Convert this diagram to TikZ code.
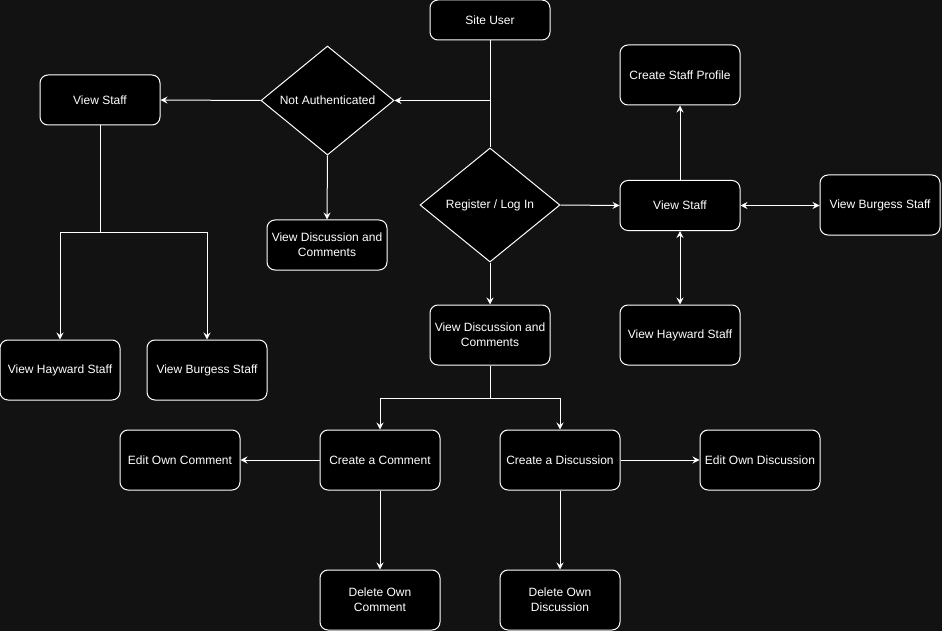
\documentclass[tikz,border=0pt]{standalone}
\usepackage{fontspec}
\setmainfont{Liberation Sans}
\usetikzlibrary{shapes.geometric,arrows.meta}
\definecolor{bgcol}{RGB}{18,18,18}
\tikzset{
  box/.style={draw=white, fill=black, text=white, rounded corners=8pt,
    line width=1pt, minimum width=120pt, minimum height=60pt, inner sep=0pt,
    align=center, font=\fontsize{12}{15}\selectfont},
  shortbox/.style={box, minimum height=50pt},
  decision/.style={diamond, draw=white, fill=black, text=white, line width=1pt,
    inner sep=0pt, align=center, font=\fontsize{12}{15}\selectfont},
  link/.style={draw=white, line width=1pt},
  arr/.style={link, -{Stealth[length=7pt,width=7pt,inset=2.5pt]}},
  twoway/.style={link, {Stealth[length=7pt,width=7pt,inset=2.5pt]}-{Stealth[length=7pt,width=7pt,inset=2.5pt]}},
}
\begin{document}
\begin{tikzpicture}[x=1pt,y=-1pt]
\fill[bgcol] (0,0) rectangle (942,631);
\useasboundingbox (0,0) rectangle (942,631);

% top of the flow
\node[box, minimum height=40pt] (su) at (490,20) {Site User};
\node[decision, minimum width=133pt, minimum height=109pt] (na) at (327.5,100.5) {Not Authenticated};
\node[decision, minimum width=140pt, minimum height=114pt] (rl) at (490,205) {Register / Log In};

% visitor branch
\node[shortbox] (vsl) at (100,100) {View Staff};
\node[shortbox] (vdl) at (327,245) {View Discussion and\\Comments};
\node[box] (hl) at (60,370) {View Hayward Staff};
\node[box] (bgl) at (207,370) {View Burgess Staff};

% signed-in staff branch
\node[shortbox] (vsr) at (680,205.5) {View Staff};
\node[box] (csp) at (680,75) {Create Staff Profile};
\node[box] (bgr) at (880,205) {View Burgess Staff};
\node[box] (hr) at (680,335) {View Hayward Staff};

% discussion branch
\node[box] (vdm) at (490,335) {View Discussion and\\Comments};
\node[box] (cc) at (380,460) {Create a Comment};
\node[box] (cd) at (560,460) {Create a Discussion};
\node[box] (ec) at (180,460) {Edit Own Comment};
\node[box] (ed) at (760,460) {Edit Own Discussion};
\node[box] (dc) at (380,600) {Delete Own\\Comment};
\node[box] (dd) at (560,600) {Delete Own\\Discussion};

% branch points
\coordinate (splitl) at (100,232.5);
\coordinate (splitm) at (490,398);

% connectors
\draw[link] (su.south) -- (rl.north);
\draw[arr] (su.south) |- (na.east);
\draw[arr] (na.west) -- (vsl.east);
\draw[arr] (na.south) -- (vdl.north);
\draw[link] (vsl.south) -- (splitl);
\draw[arr] (splitl) -| (hl.north);
\draw[arr] (splitl) -| (bgl.north);

\draw[arr] (rl.east) -- (vsr.west);
\draw[arr] (rl.south) -- (vdm.north);
\draw[arr] (vsr.north) -- (csp.south);
\draw[twoway] (vsr.east) -- (bgr.west |- vsr.east);
\draw[twoway] (vsr.south) -- (hr.north);

\draw[link] (vdm.south) -- (splitm);
\draw[arr] (splitm) -| (cc.north);
\draw[arr] (splitm) -| (cd.north);
\draw[arr] (cc.west) -- (ec.east);
\draw[arr] (cd.east) -- (ed.west);
\draw[arr] (cc.south) -- (dc.north);
\draw[arr] (cd.south) -- (dd.north);
\end{tikzpicture}
\end{document}
